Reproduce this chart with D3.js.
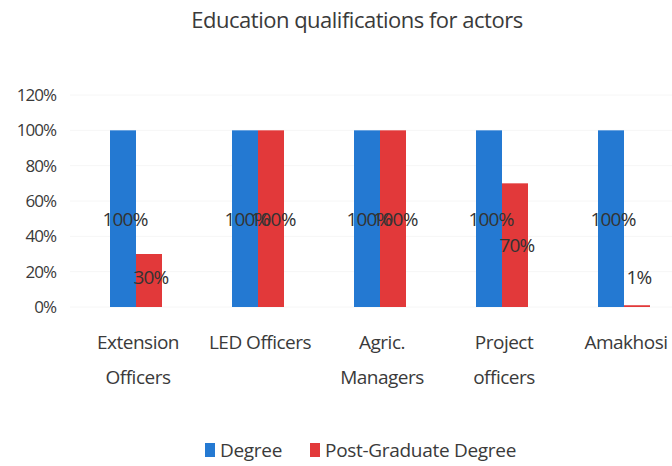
<!DOCTYPE html>
<html>
<head>
<meta charset="utf-8">
<script src="https://cdn.jsdelivr.net/npm/d3@7"></script>
<style>
  body { margin: 0; background: #fff; }
  svg text { font-family: "Open Sans", "DejaVu Sans", sans-serif; fill: #3a3a3a; }
</style>
</head>
<body>
<svg id="chart" width="672" height="466"></svg>
<script>

// data
const categories = [["Extension", "Officers"], ["LED Officers"], ["Agric.", "Managers"], ["Project", "officers"], ["Amakhosi"]]
const seriesNames = ["Degree", "Post-Graduate Degree"]
const degree = [100, 100, 100, 100, 100]
const postGrad = [30, 100, 100, 70, 1]
const yTicks = [0, 20, 40, 60, 80, 100, 120]
const colors = ["#2479d2", "#e2393a"]

const svg = d3.select("#chart")

// plot box
const x = d3.scaleBand()
    .domain(d3.range(categories.length))
    .range([75, 685])

const y = d3.scaleLinear()
    .domain([0, 120])
    .range([307, 95])

const barW = 26

// title
svg.append("text")
    .attr("x", 357).attr("y", 28)
    .attr("text-anchor", "middle")
    .style("font-size", "22px")
    .style("letter-spacing", "-0.5px")
    .text("Education qualifications for actors")

// y axis labels
svg.selectAll(".ytick")
  .data(yTicks)
  .enter().append("text")
    .attr("class", "ytick")
    .attr("x", 56)
    .attr("y", d => y(d) + 6)
    .attr("text-anchor", "end")
    .style("font-size", "17px")
    .style("letter-spacing", "-1px")
    .text(d => d + "%")

// faint gridlines
svg.selectAll(".grid")
  .data(yTicks)
  .enter().append("line")
    .attr("x1", 70).attr("x2", 672)
    .attr("y1", d => y(d)).attr("y2", d => y(d))
    .attr("stroke", "#f6f6f6")

const series = [degree, postGrad]

series.forEach((vals, s) => {
  const cx = i => x(i) + x.bandwidth() / 2 + (s === 0 ? -barW : 0)
  svg.selectAll(".bar" + s)
    .data(vals)
    .enter().append("rect")
      .attr("x", (d, i) => cx(i))
      .attr("y", d => y(d))
      .attr("width", barW)
      .attr("height", d => y(0) - y(d))
      .attr("fill", colors[s])
})

// data labels, centred in bars (clamped upward for short bars)
series.forEach((vals, s) => {
  const cx = i => x(i) + x.bandwidth() / 2 + (s === 0 ? -barW / 2 : barW / 2)
  svg.selectAll(".lab" + s)
    .data(vals)
    .enter().append("text")
      .attr("x", (d, i) => cx(i) + 2)
      .attr("y", d => y(Math.max(d / 2, 17)) + 7)
      .attr("text-anchor", "middle")
      .style("font-size", "19px")
      .style("letter-spacing", "-0.8px")
      .style("fill", "#333")
      .text(d => d + "%")
})

// category labels
categories.forEach((lines, i) => {
  const t = svg.append("text")
      .attr("x", x(i) + x.bandwidth() / 2 + 2)
      .attr("y", 349)
      .attr("text-anchor", "middle")
      .style("font-size", "19px")
      .style("letter-spacing", "-0.5px")
  lines.forEach((l, j) => {
    t.append("tspan")
      .attr("x", x(i) + x.bandwidth() / 2 + 2)
      .attr("dy", j === 0 ? 0 : 35)
      .text(l)
  })
})

// legend
const legendX = [205, 310]
seriesNames.forEach((name, s) => {
  svg.append("rect")
    .attr("x", legendX[s]).attr("y", 443)
    .attr("width", 10).attr("height", 14)
    .attr("fill", colors[s])
  svg.append("text")
    .attr("x", legendX[s] + 15).attr("y", 457)
    .style("font-size", "19px")
    .style("letter-spacing", "-0.3px")
    .text(name)
})

</script>
</body>
</html>
